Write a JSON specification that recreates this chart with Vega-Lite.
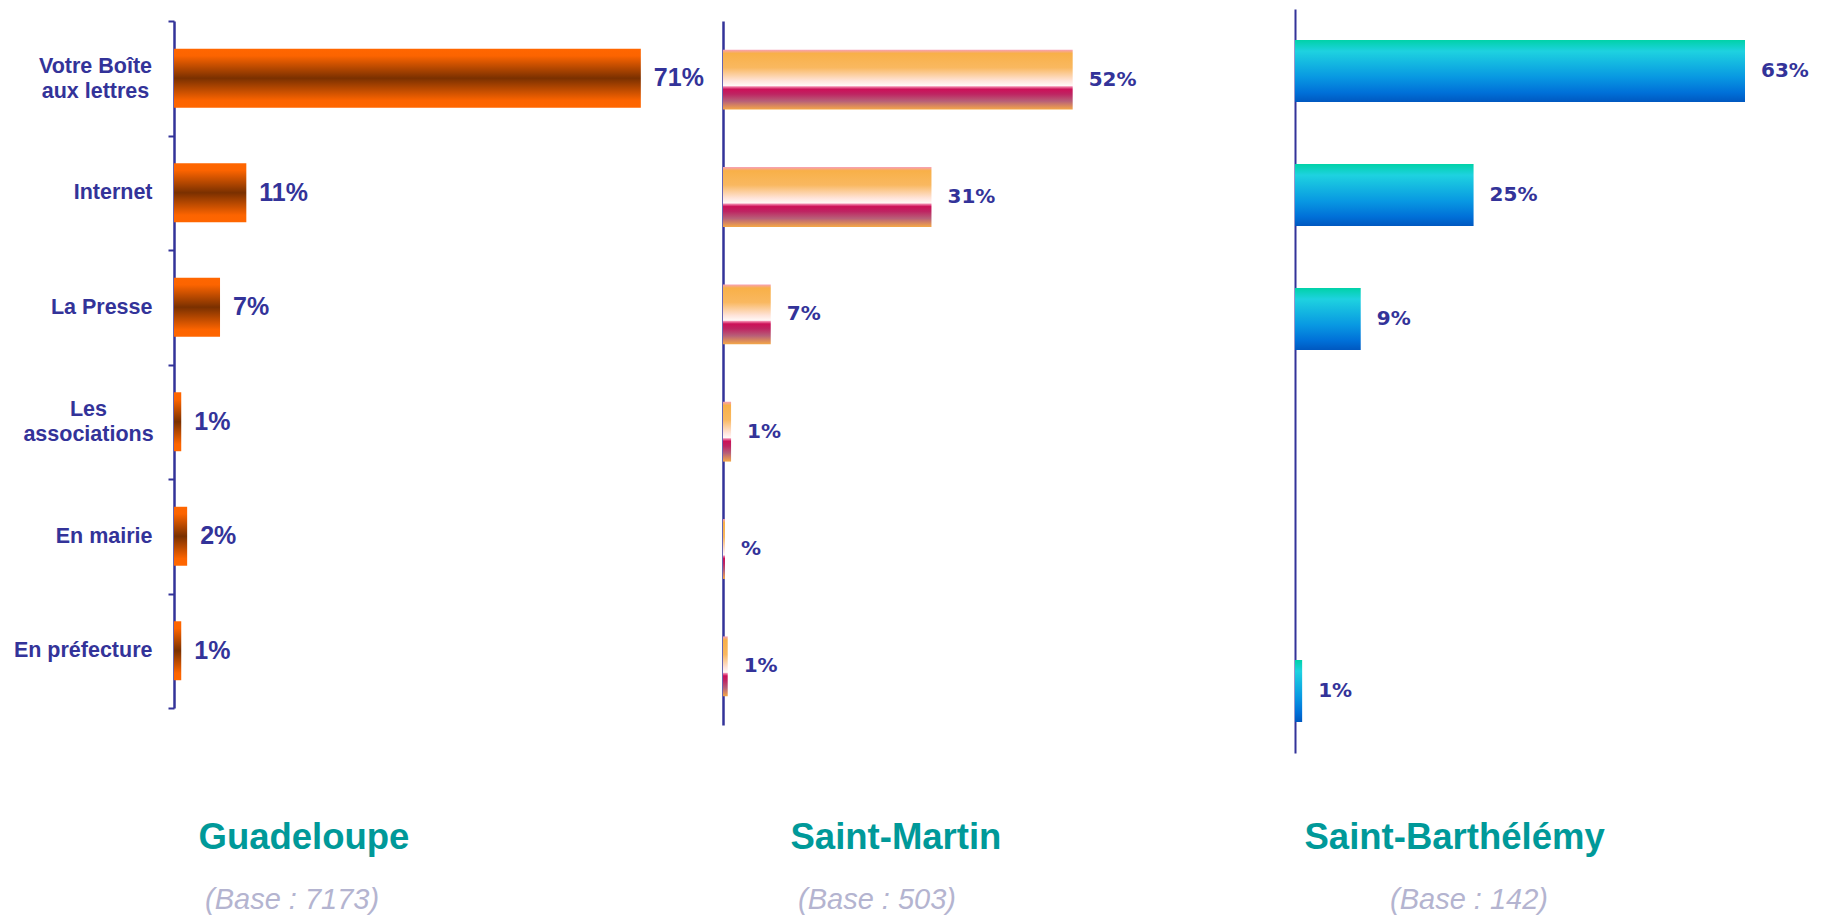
{
  "$schema": "https://vega.github.io/schema/vega-lite/v6.json",
  "background": "white",
  "padding": {"left": 13, "top": 8, "right": 5, "bottom": 0},
  "bounds": "flush",
  "spacing": 23,
  "data": {
    "values": [
      {"region": "Guadeloupe", "channel": "Votre Boîte aux lettres", "value": 71, "label": "71%"},
      {"region": "Guadeloupe", "channel": "Internet", "value": 11, "label": "11%"},
      {"region": "Guadeloupe", "channel": "La Presse", "value": 7, "label": "7%"},
      {"region": "Guadeloupe", "channel": "Les associations", "value": 1.1, "label": "1%"},
      {"region": "Guadeloupe", "channel": "En mairie", "value": 2, "label": "2%"},
      {"region": "Guadeloupe", "channel": "En préfecture", "value": 1.1, "label": "1%"},
      {"region": "Saint-Martin", "channel": "Votre Boîte aux lettres", "value": 52, "label": "52%"},
      {"region": "Saint-Martin", "channel": "Internet", "value": 31, "label": "31%"},
      {"region": "Saint-Martin", "channel": "La Presse", "value": 7.1, "label": "7%"},
      {"region": "Saint-Martin", "channel": "Les associations", "value": 1.2, "label": "1%"},
      {"region": "Saint-Martin", "channel": "En mairie", "value": 0.3, "label": "%"},
      {"region": "Saint-Martin", "channel": "En préfecture", "value": 0.7, "label": "1%"},
      {"region": "Saint-Barthélémy", "channel": "Votre Boîte aux lettres", "value": 63, "label": "63%"},
      {"region": "Saint-Barthélémy", "channel": "Internet", "value": 25, "label": "25%"},
      {"region": "Saint-Barthélémy", "channel": "La Presse", "value": 9.2, "label": "9%"},
      {"region": "Saint-Barthélémy", "channel": "En préfecture", "value": 1, "label": "1%"}
    ]
  },
  "hconcat": [
    {
      "width": 526,
      "height": 745,
      "transform": [{"filter": "datum.region == 'Guadeloupe'"}],
      "title": {"text": "(Base : 7173)", "anchor": "start", "dx": 31},
      "encoding": {
        "x": {"field": "value", "type": "quantitative", "scale": {"domain": [0, 80], "nice": false},
          "axis": {"domain": false, "ticks": false, "labels": false, "grid": false, "title": "Guadeloupe", "titleX": 24, "titleAlign": "left", "titleAnchor": "start", "titlePadding": 66}},
        "y": {
          "field": "channel", "type": "nominal",
          "scale": {"domain": ["Votre Boîte aux lettres", "Internet", "La Presse", "Les associations", "En mairie", "En préfecture"], "range": [13, 700], "paddingInner": 0, "paddingOuter": 0},
          "axis": {
            "title": null,
            "domainColor": "#333399", "domainWidth": 2.5,
            "tickColor": "#333399", "tickWidth": 2, "tickSize": 6, "tickBand": "extent",
            "labelFont": "Liberation Sans, Arial",
            "labelFontSize": {"condition": {"test": "!isValid(datum.value)", "value": 0}, "value": 21.5},
            "labelFontWeight": "bold", "labelColor": "#333399",
            "labelLimit": 400, "labelLineHeight": 25,
            "labelExpr": "!isValid(datum.value) ? '' : datum.value == 'Votre Boîte aux lettres' ? ['Votre Boîte', 'aux lettres'] : datum.value == 'Les associations' ? ['Les', 'associations'] : datum.value",
            "labelAlign": {"condition": {"test": "datum.value == 'Votre Boîte aux lettres' || datum.value == 'Les associations'", "value": "center"}, "value": "right"},
            "labelOffset": {"condition": {"test": "datum.value == 'Votre Boîte aux lettres' || datum.value == 'Les associations'", "value": -12}, "value": 0},
            "labelPadding": {"condition": [{"test": "datum.value == 'Votre Boîte aux lettres'", "value": 73}, {"test": "datum.value == 'Les associations'", "value": 80}], "value": 16}
          }
        }
      },
      "layer": [
        {
          "mark": {"type": "bar", "height": {"band": 0.515}, "fill": {"gradient": "linear", "x1": 0, "y1": 0, "x2": 0, "y2": 1, "stops": [
            {"offset": 0, "color": "#FF6600"},
            {"offset": 0.12, "color": "#FC6400"},
            {"offset": 0.5, "color": "#7A3000"},
            {"offset": 0.88, "color": "#FC6400"},
            {"offset": 1, "color": "#FF6600"}
          ]}}
        },
        {
          "mark": {"type": "text", "align": "left", "baseline": "middle", "dx": 13, "font": "Liberation Sans, Arial", "fontSize": 25, "fontWeight": "bold", "color": "#333399"},
          "encoding": {"text": {"field": "label"}}
        }
      ]
    },
    {
      "width": 549,
      "height": 745,
      "transform": [{"filter": "datum.region == 'Saint-Martin'"}],
      "title": {"text": "(Base : 503)", "anchor": "start", "dx": 75},
      "encoding": {
        "x": {"field": "value", "type": "quantitative", "scale": {"domain": [0, 81.64], "nice": false},
          "axis": {"domain": false, "ticks": false, "labels": false, "grid": false, "title": "Saint-Martin", "titleX": 67, "titleAlign": "left", "titleAnchor": "start", "titlePadding": 66}},
        "y": {
          "field": "channel", "type": "nominal",
          "scale": {"domain": ["Votre Boîte aux lettres", "Internet", "La Presse", "Les associations", "En mairie", "En préfecture"], "range": [13, 717], "paddingInner": 0, "paddingOuter": 0},
          "axis": {"title": null, "labels": false, "ticks": false, "domainColor": "#333399", "domainWidth": 2.5}
        }
      },
      "layer": [
        {
          "mark": {"type": "bar", "height": {"band": 0.51}, "fill": {"gradient": "linear", "x1": 0, "y1": 0, "x2": 0, "y2": 1, "stops": [
            {"offset": 0, "color": "#F7A0B8"},
            {"offset": 0.06, "color": "#F8B048"},
            {"offset": 0.3, "color": "#F9B860"},
            {"offset": 0.52, "color": "#FFE4DA"},
            {"offset": 0.6, "color": "#FFF8F6"},
            {"offset": 0.62, "color": "#F080A8"},
            {"offset": 0.66, "color": "#CC1058"},
            {"offset": 0.74, "color": "#BE2462"},
            {"offset": 0.86, "color": "#B86078"},
            {"offset": 1, "color": "#F4A848"}
          ]}}
        },
        {
          "mark": {"type": "text", "align": "left", "baseline": "middle", "dx": 16, "font": "DejaVu Sans", "fontSize": 20, "fontWeight": "bold", "color": "#333399"},
          "encoding": {"text": {"field": "label"}}
        }
      ]
    },
    {
      "width": 500,
      "height": 745,
      "transform": [{"filter": "datum.region == 'Saint-Barthélémy'"}],
      "title": {"text": "(Base : 142)", "anchor": "start", "dx": 95},
      "encoding": {
        "x": {"field": "value", "type": "quantitative", "scale": {"domain": [0, 70], "nice": false},
          "axis": {"domain": false, "ticks": false, "labels": false, "grid": false, "title": "Saint-Barthélémy", "titleX": 9, "titleAlign": "left", "titleAnchor": "start", "titlePadding": 66}},
        "y": {
          "field": "channel", "type": "nominal",
          "scale": {"domain": ["Votre Boîte aux lettres", "Internet", "La Presse", "Les associations", "En mairie", "En préfecture"], "range": [1, 745], "paddingInner": 0, "paddingOuter": 0},
          "axis": {"title": null, "labels": false, "ticks": false, "domainColor": "#333399", "domainWidth": 2}
        }
      },
      "layer": [
        {
          "mark": {"type": "bar", "height": {"band": 0.5}, "fill": {"gradient": "linear", "x1": 0, "y1": 0, "x2": 0, "y2": 1, "stops": [
            {"offset": 0, "color": "#00D2A8"},
            {"offset": 0.18, "color": "#1ED2E0"},
            {"offset": 0.6, "color": "#0898E2"},
            {"offset": 0.85, "color": "#0070D8"},
            {"offset": 1, "color": "#0058C0"}
          ]}}
        },
        {
          "mark": {"type": "text", "align": "left", "baseline": "middle", "dx": 16, "font": "DejaVu Sans", "fontSize": 20, "fontWeight": "bold", "color": "#333399"},
          "encoding": {"text": {"field": "label"}}
        }
      ]
    }
  ],
  "config": {
    "view": {"stroke": null},
    "axisX": {"titleFont": "Liberation Sans", "titleFontSize": 36.5, "titleFontWeight": "bold", "titleColor": "#009999"},
    "title": {
      "orient": "bottom", "offset": 30, "frame": "group",
      "font": "Liberation Sans", "fontSize": 29, "fontStyle": "italic", "fontWeight": "normal", "color": "#B4B4D0"
    }
  }
}
